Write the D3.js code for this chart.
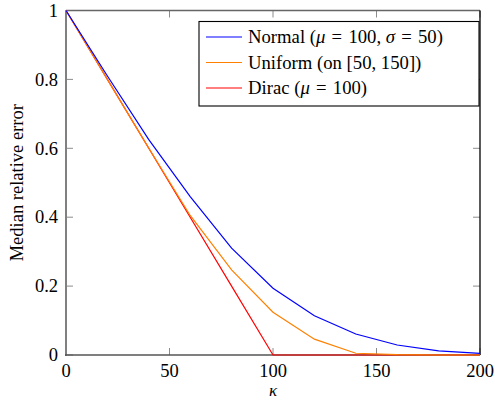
<!DOCTYPE html>
<html>
<head>
<meta charset="utf-8">
<script src="https://cdn.jsdelivr.net/npm/d3@7"></script>
<style>
  html, body { margin: 0; padding: 0; background: #fff; }
  svg { display: block; }
</style>
</head>
<body>
<svg id="chart" width="495" height="401"></svg>
<script>
// ---- data ----
const kappa = [0, 20, 40, 60, 80, 100, 120, 140, 160, 180, 200];
const normalVals  = [1, 0.81, 0.625, 0.46, 0.31, 0.194, 0.114, 0.061, 0.029, 0.012, 0.005];
const uniformVals = [1, 0.80, 0.60, 0.405, 0.247, 0.124, 0.046, 0.005, 0.001, 0, 0];
const diracVals   = [1, 0.80, 0.60, 0.40, 0.20, 0, 0, 0, 0, 0, 0];
const xTicks = [0, 50, 100, 150, 200];
const yTicks = [0, 0.2, 0.4, 0.6, 0.8, 1];
const seriesNames = ["Normal", "Uniform", "Dirac"];

(function () {
const FONT = "'Liberation Serif', 'Times New Roman', Tinos, 'DejaVu Serif', serif";
const svg = d3.select("#chart").attr("font-family", FONT);
const pL = 66, pR = 480, pT = 10.5, pB = 355;

const x = d3.scaleLinear().domain([0, 200]).range([pL, pR]);
const y = d3.scaleLinear().domain([0, 1]).range([pB, pT]);

const tickLen = 7;
const tickColor = "#8c8c8c";

// ticks (inward, on all four sides)
const gTicks = svg.append("g");
xTicks.forEach(t => {
  gTicks.append("line").attr("x1", x(t)).attr("x2", x(t))
    .attr("y1", pB).attr("y2", pB - tickLen)
    .attr("stroke", tickColor).attr("stroke-width", 1);
  gTicks.append("line").attr("x1", x(t)).attr("x2", x(t))
    .attr("y1", pT).attr("y2", pT + tickLen)
    .attr("stroke", tickColor).attr("stroke-width", 1);
});
yTicks.forEach(t => {
  gTicks.append("line").attr("x1", pL).attr("x2", pL + tickLen)
    .attr("y1", y(t)).attr("y2", y(t))
    .attr("stroke", tickColor).attr("stroke-width", 1);
  gTicks.append("line").attr("x1", pR).attr("x2", pR - tickLen)
    .attr("y1", y(t)).attr("y2", y(t))
    .attr("stroke", tickColor).attr("stroke-width", 1);
});

// tick labels
svg.append("g").selectAll("text").data(xTicks).join("text")
  .attr("font-family", FONT)
  .attr("x", d => x(d)).attr("y", 377)
  .attr("text-anchor", "middle").attr("font-size", 18.5)
  .text(d => d3.format("d")(d));
svg.append("g").selectAll("text").data(yTicks).join("text")
  .attr("font-family", FONT)
  .attr("x", 58).attr("y", d => y(d)).attr("dy", "0.34em")
  .attr("text-anchor", "end").attr("font-size", 18.5)
  .text(d => String(d));

// axis labels
svg.append("text").attr("font-family", FONT)
  .attr("x", (pL + pR) / 2).attr("y", 396)
  .attr("text-anchor", "middle").attr("font-size", 17)
  .attr("font-style", "italic").text("κ");
svg.append("text").attr("font-family", FONT)
  .attr("transform", `translate(23,${(pT + pB) / 2}) rotate(-90)`)
  .attr("text-anchor", "middle").attr("font-size", 18.5)
  .text("Median relative error");

// series
const line = d3.line().x((d, i) => x(kappa[i])).y(d => y(d));
const series = [
  { name: seriesNames[0], vals: normalVals, color: "#0000ff" },
  { name: seriesNames[1], vals: uniformVals, color: "#ff8000" },
  { name: seriesNames[2], vals: diracVals, color: "#ff0000" }
];

// frame
svg.append("line").attr("x1", pL).attr("x2", pR).attr("y1", pT).attr("y2", pT)
  .attr("stroke", "#666").attr("stroke-width", 1.3);
svg.append("line").attr("x1", pR).attr("x2", pR).attr("y1", pT).attr("y2", pB)
  .attr("stroke", "#000").attr("stroke-width", 1.3);
svg.append("line").attr("x1", pL).attr("x2", pL).attr("y1", pT).attr("y2", pB + 1)
  .attr("stroke", "#808080").attr("stroke-width", 2);
svg.append("line").attr("x1", pL - 1).attr("x2", pR).attr("y1", pB).attr("y2", pB)
  .attr("stroke", "#555").attr("stroke-width", 1.6);

// lines drawn over the frame
const gLines = svg.append("g");
series.slice().reverse().forEach(s => {
  gLines.append("path").attr("d", line(s.vals))
    .attr("fill", "none").attr("stroke", s.color).attr("stroke-width", 1.2);
});

// legend
const lg = svg.append("g");
lg.append("rect").attr("x", 199).attr("y", 21.5).attr("width", 280).attr("height", 84.5)
  .attr("fill", "#fff").attr("stroke", "#000").attr("stroke-width", 1.1);
const sp = "\u2004";
const legendRows = [
  [{t: "Normal ("}, {t: "μ", i: true}, {t: sp + "=" + sp + "100, "}, {t: "σ", i: true}, {t: sp + "=" + sp + "50)"}],
  [{t: "Uniform (on [50, 150])"}],
  [{t: "Dirac ("}, {t: "μ", i: true}, {t: sp + "=" + sp + "100)"}]
];
series.forEach((s, k) => {
  const cy = 37 + k * 25.5;
  lg.append("line").attr("x1", 206).attr("x2", 242).attr("y1", cy).attr("y2", cy)
    .attr("stroke", s.color).attr("stroke-width", 1.2);
  const t = lg.append("text").attr("font-family", FONT)
    .attr("x", 248).attr("y", cy).attr("dy", "0.34em")
    .attr("font-size", 18.7).style("white-space", "pre");
  legendRows[k].forEach(p => {
    const ts = t.append("tspan").text(p.t);
    if (p.i) ts.attr("font-style", "italic");
  });
});
})();
</script>
</body>
</html>
